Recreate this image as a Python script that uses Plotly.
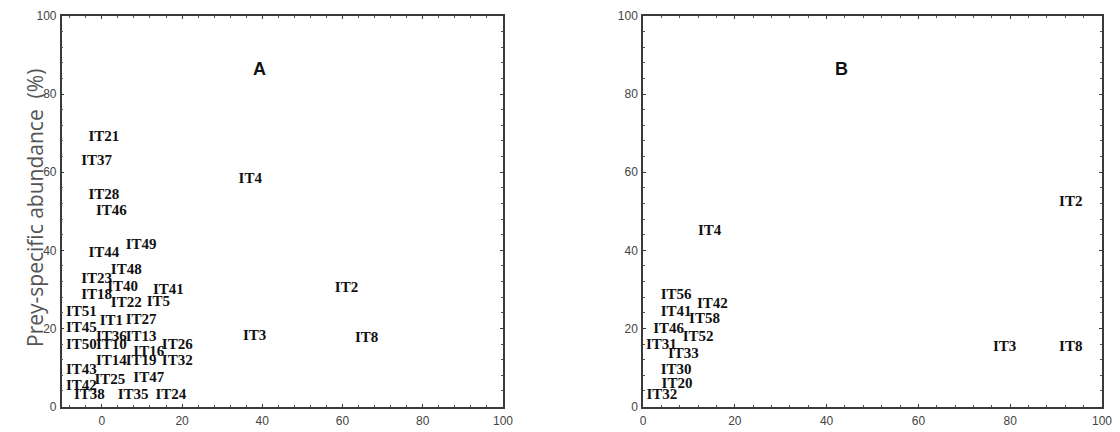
import plotly.graph_objects as go

# Panel A data
a_labels = ["IT21", "IT37", "IT28", "IT46", "IT4", "IT49", "IT44", "IT48", "IT23", "IT40",
            "IT41", "IT2", "IT18", "IT22", "IT5", "IT51", "IT1", "IT27", "IT45", "IT36",
            "IT13", "IT3", "IT8", "IT50", "IT10", "IT26", "IT16", "IT14", "IT19", "IT32",
            "IT43", "IT47", "IT25", "IT42", "IT38", "IT35", "IT24"]
a_x = [0.5, -1.3, 0.5, 2.4, 37.0, 9.8, 0.5, 6.1, -1.3, 5.2,
       16.6, 61.0, -1.3, 6.1, 14.1, -5.1, 2.4, 9.8, -5.1, 2.4,
       9.8, 38.1, 66.0, -5.1, 2.4, 18.8, 11.7, 2.4, 9.8, 18.8,
       -5.1, 11.7, 2.0, -5.1, -3.1, 7.8, 17.2]
a_y = [69.0, 62.7, 54.1, 49.9, 58.2, 41.3, 39.2, 35.0, 32.7, 30.5,
       29.7, 30.3, 28.5, 26.4, 26.8, 24.1, 21.9, 22.2, 20.0, 17.7,
       17.7, 18.1, 17.6, 15.6, 15.6, 15.6, 13.8, 11.5, 11.5, 11.5,
       9.4, 7.2, 6.6, 5.1, 3.0, 3.0, 3.0]

# Panel B data
b_labels = ["IT2", "IT4", "IT56", "IT42", "IT41", "IT58", "IT46", "IT52", "IT31", "IT33",
            "IT3", "IT8", "IT30", "IT20", "IT32"]
b_x = [93.2, 14.5, 7.2, 15.1, 7.2, 13.4, 5.6, 12.0, 4.0, 8.8,
       78.8, 93.2, 7.2, 7.4, 4.1]
b_y = [52.2, 45.0, 28.5, 26.3, 24.2, 22.3, 19.8, 17.8, 15.7, 13.5,
       15.1, 15.2, 9.4, 5.8, 2.8]

tick_vals = [0, 20, 40, 60, 80, 100]
tick_text = ["0", "20", "40", "60", "80", "100"]

label_font = dict(family="Liberation Serif", size=15, color="#111111", weight="bold")

fig = go.Figure()
fig.add_trace(go.Scatter(x=a_x, y=a_y, text=a_labels, mode="text",
                         textposition="middle center", textfont=label_font,
                         xaxis="x", yaxis="y", showlegend=False, hoverinfo="skip"))
fig.add_trace(go.Scatter(x=b_x, y=b_y, text=b_labels, mode="text",
                         textposition="middle center", textfont=label_font,
                         xaxis="x2", yaxis="y2", showlegend=False, hoverinfo="skip"))

axis_common = dict(
    showline=True, linecolor="#3a3a3a", linewidth=1.5, mirror="ticks",
    ticks="inside", ticklen=3, tickwidth=1, tickcolor="#3a3a3a",
    tickvals=tick_vals, ticktext=tick_text,
    showgrid=False, zeroline=False, automargin=False,
    tickfont=dict(family="Liberation Sans", size=12, color="#444444"),
    minor=dict(ticks="inside", ticklen=2, tickwidth=1, tickcolor="#555555",
               dtick=4, tick0=0, showgrid=False),
    fixedrange=True,
)

# page content is offset by ~8 px; positions below compensate
OFF = 8
W, H = 1120, 432
y_dom = [(H - (406.5 - OFF)) / H, (H - (16 - OFF)) / H]

fig.update_layout(
    width=W, height=H,
    margin=dict(l=0, r=0, t=0, b=0),
    paper_bgcolor="white", plot_bgcolor="white",
    xaxis=dict(axis_common, domain=[(61.7 - OFF) / W, (503 - OFF) / W], range=[-10, 100],
               anchor="y", ticklabelstandoff=2),
    yaxis=dict(axis_common, domain=y_dom, range=[0, 100], anchor="x", ticklabelstandoff=1),
    xaxis2=dict(axis_common, domain=[(643 - OFF) / W, (1102 - OFF) / W], range=[0, 100],
                anchor="y2", ticklabelstandoff=2),
    yaxis2=dict(axis_common, domain=y_dom, range=[0, 100], anchor="x2", ticklabelstandoff=1),
    annotations=[
        dict(text="A", x=39.2, y=86.4, xref="x", yref="y", showarrow=False,
             font=dict(family="Liberation Sans", size=18, color="#111111", weight="bold")),
        dict(text="B", x=43.2, y=86.3, xref="x2", yref="y2", showarrow=False,
             font=dict(family="Liberation Sans", size=18, color="#111111", weight="bold")),
        dict(text="Prey-specific abundance\u00a0\u00a0(%)", x=(19 - OFF) / W,
             y=(H - (208 - OFF)) / H,
             xref="paper", yref="paper", showarrow=False, textangle=-90,
             font=dict(family="Open Sans", size=21, color="#555555")),
    ],
)

fig.write_html("out.html")
